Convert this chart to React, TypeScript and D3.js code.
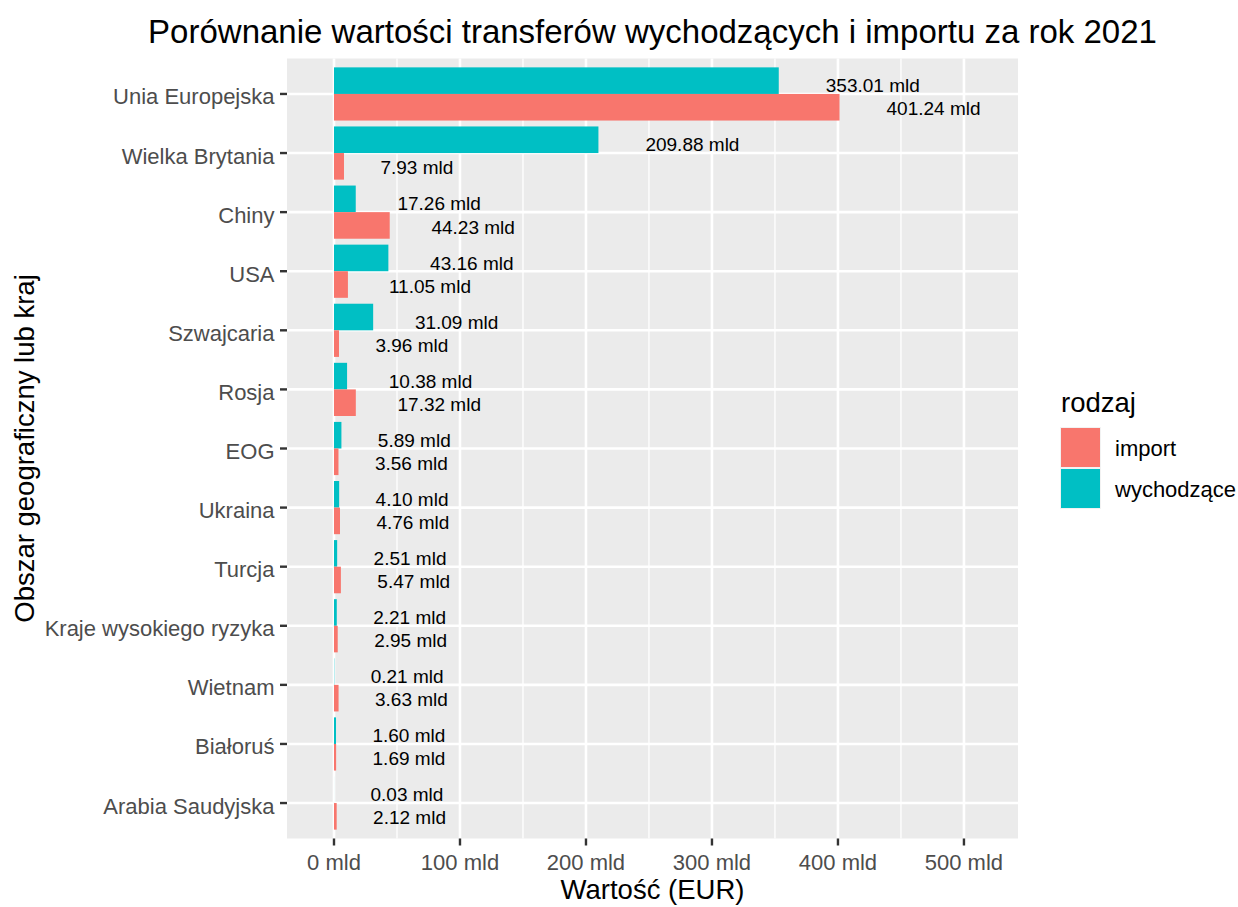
import React from "react";
import * as d3 from "d3";

// dane z wykresu (mld EUR)
const categories = [
  "Unia Europejska",
  "Wielka Brytania",
  "Chiny",
  "USA",
  "Szwajcaria",
  "Rosja",
  "EOG",
  "Ukraina",
  "Turcja",
  "Kraje wysokiego ryzyka",
  "Wietnam",
  "Białoruś",
  "Arabia Saudyjska",
];
const wychodzace = [353.01, 209.88, 17.26, 43.16, 31.09, 10.38, 5.89, 4.1, 2.51, 2.21, 0.21, 1.6, 0.03];
const importVals = [401.24, 7.93, 44.23, 11.05, 3.96, 17.32, 3.56, 4.76, 5.47, 2.95, 3.63, 1.69, 2.12];
const xTicks = [0, 100, 200, 300, 400, 500];
const xMinor = [50, 150, 250, 350, 450];
const xLimits = [-37.3, 542.9];
const legendItems = [
  { name: "import", color: "#F8766D" },
  { name: "wychodzące", color: "#00BFC4" },
];

const W = 1238;
const H = 907;
const panel = { left: 287, right: 1018, top: 58.5, bottom: 838.5 };
const FONT = '"Liberation Sans", Arial, sans-serif';

let ctx: CanvasRenderingContext2D | null = null;
function textWidth(s: string, size: number) {
  if (!ctx) ctx = document.createElement("canvas").getContext("2d");
  if (!ctx) return s.length * size * 0.5;
  ctx.font = `${size}px "Liberation Sans", Arial, sans-serif`;
  return ctx.measureText(s).width;
}

const fmt = (v: number) => `${v.toFixed(2)} mld`;

export default function App() {
  const x = d3.scaleLinear().domain(xLimits).range([panel.left, panel.right]);
  const y = d3.scalePoint<string>().domain(categories).range([panel.top, panel.bottom]).padding(0.6);
  const step = y.step();
  const barH = step * 0.45;
  const labelSize = 19;

  const rows = categories.map((c, i) => ({ c, out: wychodzace[i], imp: importVals[i] }));

  return (
    <svg
      width={W}
      height={H}
      style={{ position: "absolute", left: 0, top: 0, background: "#fff" }}
      fontFamily={FONT}
    >
      <rect x={0} y={0} width={W} height={H} fill="#fff" />
      {/* panel */}
      <rect
        x={panel.left}
        y={panel.top}
        width={panel.right - panel.left}
        height={panel.bottom - panel.top}
        fill="#EBEBEB"
      />
      {xMinor.map((t) => (
        <line key={"mn" + t} x1={x(t)} x2={x(t)} y1={panel.top} y2={panel.bottom} stroke="#fff" strokeWidth={1.3} />
      ))}
      {xTicks.map((t) => (
        <line key={"mj" + t} x1={x(t)} x2={x(t)} y1={panel.top} y2={panel.bottom} stroke="#fff" strokeWidth={2.6} />
      ))}
      {categories.map((c) => (
        <line key={"hy" + c} x1={panel.left} x2={panel.right} y1={y(c)} y2={y(c)} stroke="#fff" strokeWidth={2.6} />
      ))}

      {/* bars */}
      {rows.map((r) => {
        const cy = y(r.c) as number;
        return (
          <g key={"b" + r.c}>
            <rect x={x(0)} y={cy - barH} width={x(r.out) - x(0)} height={barH} fill="#00BFC4" />
            <rect x={x(0)} y={cy} width={x(r.imp) - x(0)} height={barH} fill="#F8766D" />
          </g>
        );
      })}

      {/* labels (hjust = -0.5) */}
      {rows.map((r) => {
        const cy = y(r.c) as number;
        const t1 = fmt(r.out);
        const t2 = fmt(r.imp);
        return (
          <g key={"l" + r.c} fontSize={labelSize} fill="#000">
            <text x={x(r.out) + textWidth(t1, labelSize) / 2} y={cy - step * 0.195 + labelSize * 0.52}>
              {t1}
            </text>
            <text x={x(r.imp) + textWidth(t2, labelSize) / 2} y={cy + step * 0.195 + labelSize * 0.52}>
              {t2}
            </text>
          </g>
        );
      })}

      {/* y axis */}
      {categories.map((c) => (
        <g key={"ya" + c}>
          <line x1={panel.left - 7} x2={panel.left} y1={y(c)} y2={y(c)} stroke="#333" strokeWidth={2.4} />
          <text x={panel.left - 12.5} y={(y(c) as number) + 10.5} textAnchor="end" fontSize={22} fill="#4D4D4D">
            {c}
          </text>
        </g>
      ))}

      {/* x axis */}
      {xTicks.map((t) => (
        <g key={"xa" + t}>
          <line x1={x(t)} x2={x(t)} y1={panel.bottom} y2={panel.bottom + 7} stroke="#333" strokeWidth={2.4} />
          <text x={x(t)} y={870} textAnchor="middle" fontSize={22} fill="#4D4D4D">
            {`${t} mld`}
          </text>
        </g>
      ))}

      <text x={(panel.left + panel.right) / 2} y={899} textAnchor="middle" fontSize={27.5} fill="#000">
        Wartość (EUR)
      </text>
      <text
        transform={`translate(34, ${(panel.top + panel.bottom) / 2}) rotate(-90)`}
        textAnchor="middle"
        fontSize={27.5}
        fill="#000"
      >
        Obszar geograficzny lub kraj
      </text>
      <text x={(panel.left + panel.right) / 2} y={43} textAnchor="middle" fontSize={33} fill="#000">
        Porównanie wartości transferów wychodzących i importu za rok 2021
      </text>

      {/* legend */}
      <text x={1061} y={412} fontSize={27.5} fill="#000">
        rodzaj
      </text>
      {legendItems.map((d, i) => (
        <g key={d.name} transform={`translate(1060, ${427 + i * 41})`}>
          <rect x={0} y={0} width={41} height={41} fill="#F2F2F2" />
          <rect x={1} y={1} width={39} height={39} fill={d.color} />
          <text x={55} y={20.5 + 8} fontSize={22} fill="#000">
            {d.name}
          </text>
        </g>
      ))}
    </svg>
  );
}
